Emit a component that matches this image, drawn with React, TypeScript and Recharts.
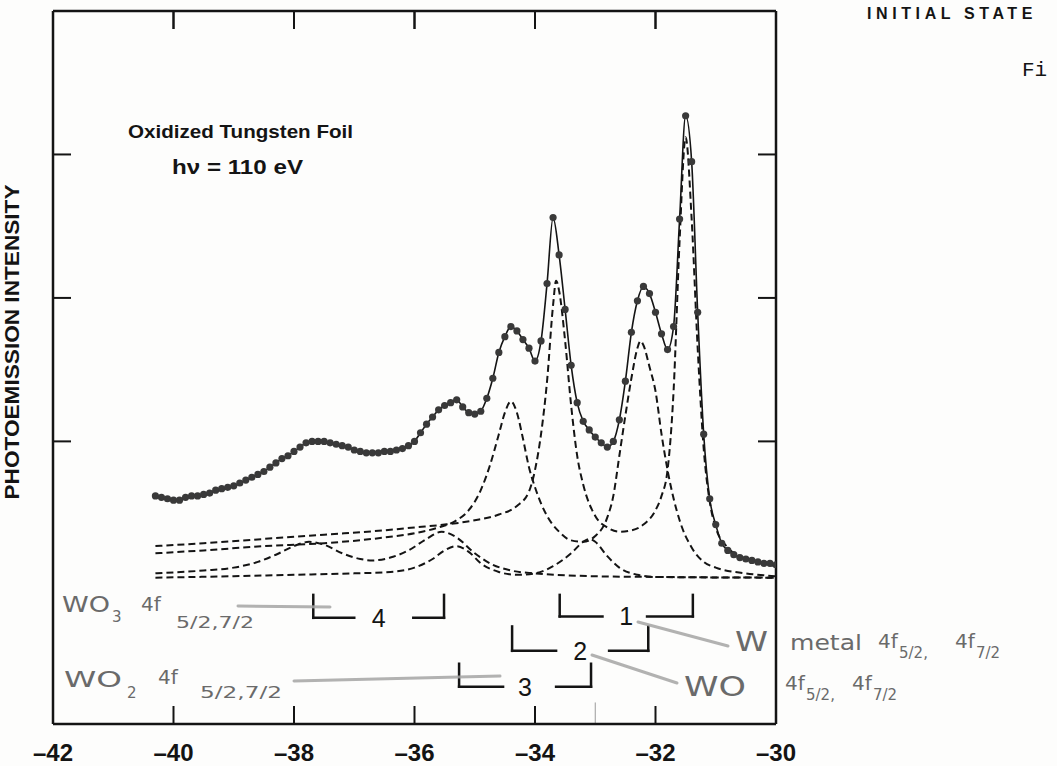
import React from "react";
import { ComposedChart, Line, XAxis, YAxis, ReferenceLine, ReferenceDot } from "recharts";

// measured spectrum (binding energy in eV, relative intensity)
const energy = [
  -40.3, -40.2, -40.1, -40.0, -39.9, -39.8, -39.7, -39.6, -39.5, -39.4, -39.3, -39.2, -39.1, -39.0,
  -38.9, -38.8, -38.7, -38.6, -38.5, -38.4, -38.3, -38.2, -38.1, -38.0, -37.9, -37.8, -37.7, -37.6,
  -37.5, -37.4, -37.3, -37.2, -37.1, -37.0, -36.9, -36.8, -36.7, -36.6, -36.5, -36.4, -36.3, -36.2,
  -36.1, -36.0, -35.9, -35.8, -35.7, -35.6, -35.5, -35.4, -35.3, -35.2, -35.1, -35.0, -34.9, -34.8,
  -34.7, -34.6, -34.5, -34.4, -34.3, -34.2, -34.1, -34.0, -33.9, -33.8, -33.7, -33.6, -33.5, -33.4,
  -33.3, -33.2, -33.1, -33.0, -32.9, -32.8, -32.7, -32.6, -32.5, -32.4, -32.3, -32.2, -32.1, -32.0,
  -31.9, -31.8, -31.7, -31.6, -31.5, -31.4, -31.3, -31.2, -31.1, -31.0, -30.9, -30.8, -30.7, -30.6,
  -30.5, -30.4, -30.3, -30.2, -30.1, -30.0,
];
const intensity = [
  0.62, 0.61, 0.6, 0.59, 0.59, 0.61, 0.62, 0.62, 0.63, 0.64, 0.66, 0.67, 0.68, 0.69,
  0.71, 0.73, 0.75, 0.77, 0.79, 0.82, 0.85, 0.88, 0.9, 0.93, 0.96, 0.99, 1.0, 1.0,
  1.0, 0.99, 0.98, 0.97, 0.96, 0.94, 0.93, 0.92, 0.92, 0.92, 0.93, 0.93, 0.94, 0.95,
  0.97, 1.0, 1.06, 1.12, 1.17, 1.22, 1.25, 1.27, 1.29, 1.24, 1.2, 1.19, 1.21, 1.3,
  1.44, 1.62, 1.73, 1.8, 1.77, 1.71, 1.65, 1.56, 1.7, 2.1, 2.56, 2.3, 1.92, 1.53,
  1.27, 1.14, 1.08, 1.03, 0.99, 0.96, 1.0, 1.15, 1.42, 1.76, 1.98, 2.08, 2.03, 1.9,
  1.75, 1.64, 1.8, 2.55, 3.27, 2.95, 1.9, 1.05, 0.6, 0.42, 0.29, 0.24, 0.21, 0.19,
  0.18, 0.17, 0.16, 0.15, 0.15, 0.14,
];

// fitted components (dashed)
const metalX = [
  -40.3, -39.5, -38.5, -37.5, -36.5, -36.0, -35.5, -35.0, -34.6, -34.3, -34.1, -34.0, -33.9, -33.8,
  -33.7, -33.65, -33.6, -33.5, -33.4, -33.3, -33.2, -33.0, -32.8, -32.6, -32.4, -32.2, -32.0, -31.9,
  -31.8, -31.7, -31.6, -31.5, -31.4, -31.3, -31.2, -31.1, -31.0, -30.8, -30.6, -30.4, -30.0,
];
const metalY = [
  0.27, 0.29, 0.32, 0.35, 0.38, 0.4, 0.42, 0.45, 0.49, 0.55, 0.65, 0.8, 1.05, 1.42,
  1.95, 2.12, 2.05, 1.7, 1.25, 0.9, 0.7, 0.48, 0.4, 0.37, 0.38, 0.42, 0.52, 0.62,
  0.8, 1.35, 2.4, 3.12, 2.55, 1.65, 0.95, 0.58, 0.4, 0.26, 0.2, 0.17, 0.13,
];
const woX = [
  -40.3, -39.5, -38.5, -37.5, -36.5, -36.0, -35.6, -35.3, -35.1, -34.9, -34.75, -34.6, -34.5, -34.4,
  -34.3, -34.2, -34.1, -34.0, -33.8, -33.6, -33.4, -33.2, -33.0, -32.8, -32.7, -32.6, -32.5, -32.4,
  -32.3, -32.25, -32.2, -32.1, -32.0, -31.9, -31.8, -31.6, -31.4, -31.2, -31.0, -30.5, -30.0,
];
const woY = [
  0.22, 0.24, 0.27, 0.29, 0.33, 0.36, 0.4, 0.45, 0.52, 0.66, 0.83, 1.05, 1.2, 1.28,
  1.2, 1.02, 0.82, 0.68, 0.48, 0.37, 0.31, 0.3, 0.34, 0.47, 0.62, 0.9, 1.18, 1.44,
  1.65, 1.7, 1.67, 1.52, 1.35, 1.05, 0.8, 0.45, 0.26, 0.16, 0.12, 0.08, 0.06,
];
const wo3X = [
  -40.3, -39.5, -39.0, -38.6, -38.3, -38.0, -37.75, -37.5, -37.2, -36.9, -36.7, -36.4, -36.1, -35.8,
  -35.55, -35.3, -35.0, -34.7, -34.4, -34.0, -33.0, -32.0, -30.0,
];
const wo3Y = [
  0.08, 0.1, 0.12, 0.16, 0.21, 0.27, 0.3, 0.28, 0.22, 0.18, 0.17, 0.19, 0.24, 0.32,
  0.37, 0.33, 0.22, 0.14, 0.1, 0.08, 0.06, 0.055, 0.05,
];
const wo2X = [
  -40.3, -39.0, -38.0, -37.0, -36.4, -36.0, -35.7, -35.5, -35.3, -35.1, -34.9, -34.6, -34.3, -34.0,
  -33.7, -33.4, -33.2, -33.1, -33.0, -32.8, -32.6, -32.3, -32.0, -30.0,
];
const wo2Y = [
  0.05, 0.06, 0.07, 0.08, 0.09, 0.12, 0.18, 0.24, 0.27, 0.23, 0.15, 0.09, 0.07, 0.08,
  0.13, 0.22, 0.3, 0.32, 0.3, 0.2, 0.12, 0.07, 0.055, 0.05,
];

const xTicks = [-42, -40, -38, -36, -34, -32, -30];
const innerXTicks = [-40, -38, -36, -34, -32];
const yTicks = [1, 2, 3];
const yTop = 4;
const yBottom = -0.97;

// component brackets under the spectrum
const bracketLabels = ["1", "2", "3", "4"];
const bracketLeft = [-33.59, -34.38, -35.26, -37.68];
const bracketRight = [-31.38, -32.12, -33.07, -35.51];
const bracketTop = [-0.07, -0.29, -0.55, -0.07];
const bracketBase = [-0.22, -0.46, -0.71, -0.23];
const armLeft = [0.71, 0.73, 0.73, 0.68];
const armRight = [0.76, 0.65, 0.58, 0.51];

const toRows = (xs: number[], ys: number[]) => xs.map((x, i) => ({ x, y: ys[i] }));

const W = 1057;
const H = 766;
const M = { top: 9, right: 279, bottom: 0, left: 51 };
const AX = 2; // width/height given to the frame axes
const plotLeft = M.left + AX;
const plotRight = W - M.right - AX;
const plotTop = M.top + AX;

const INK = "#141414";
const PENCIL = "#6a6a6a";
const SANS = "'Liberation Sans', Arial, Helvetica, sans-serif";
const HAND = "'DejaVu Sans', sans-serif";

const fmt = (v: number) => (v < 0 ? `\u2013${Math.abs(v)}` : `${v}`);

// box sides: inward tick marks, no labels
const frameAxis = {
  axisLine: { stroke: INK, strokeWidth: 2.5 },
  tickLine: { stroke: INK, strokeWidth: 2 },
  tickSize: -18,
  tickFormatter: () => "",
  tick: { fontSize: 1, fill: "none" },
  allowDataOverflow: true,
  interval: 0 as const,
};

export default function App() {
  const dataRows = toRows(energy, intensity);
  const dashed = [
    { key: "metal", rows: toRows(metalX, metalY) },
    { key: "wo", rows: toRows(woX, woY) },
    { key: "wo3", rows: toRows(wo3X, wo3Y) },
    { key: "wo2", rows: toRows(wo2X, wo2Y) },
  ];
  const xPix = (v: number) => plotLeft + ((v - xTicks[0]) / (xTicks[xTicks.length - 1] - xTicks[0])) * (plotRight - plotLeft);

  return (
    <div
      style={{
        position: "absolute",
        left: 0,
        top: 0,
        width: W,
        height: H,
        background: "#fdfdfc",
        overflow: "hidden",
        fontFamily: SANS,
      }}
    >
      <ComposedChart width={W} height={H} margin={M}>
        <XAxis
          type="number"
          dataKey="x"
          domain={[-42, -30]}
          ticks={xTicks}
          interval={0}
          allowDataOverflow
          height={42}
          tickSize={-18}
          tickMargin={38}
          tickFormatter={fmt}
          axisLine={{ stroke: INK, strokeWidth: 2.5 }}
          tickLine={{ stroke: INK, strokeWidth: 2 }}
          tick={{ fill: INK, fontSize: 24, fontWeight: 700, fontFamily: SANS }}
        />
        <XAxis
          xAxisId="top"
          orientation="top"
          type="number"
          dataKey="x"
          domain={[-42, -30]}
          ticks={xTicks}
          height={AX}
          {...frameAxis}
        />
        <YAxis
          yAxisId="left"
          type="number"
          domain={[yBottom, yTop]}
          ticks={yTicks}
          width={AX}
          {...frameAxis}
        />
        <YAxis
          yAxisId="right"
          orientation="right"
          type="number"
          domain={[yBottom, yTop]}
          ticks={yTicks}
          width={AX}
          {...frameAxis}
        />

        {dashed.map((c) => (
          <Line
            key={c.key}
            data={c.rows}
            dataKey="y"
            yAxisId="left"
            type="monotone"
            stroke={INK}
            strokeWidth={2}
            strokeDasharray="7 4"
            dot={false}
            isAnimationActive={false}
          />
        ))}
        <Line
          data={dataRows}
          dataKey="y"
          yAxisId="left"
          type="monotone"
          stroke={INK}
          strokeWidth={1.6}
          dot={{ r: 3.6, fill: "#393939", stroke: "#393939", strokeWidth: 0 }}
          isAnimationActive={false}
        />

        {bracketLabels.map((lab, i) => {
          const l = bracketLeft[i];
          const r = bracketRight[i];
          const t = bracketTop[i];
          const b = bracketBase[i];
          const line = { stroke: INK, strokeWidth: 2.5, strokeLinecap: "square" as const };
          return (
            <React.Fragment key={lab}>
              <ReferenceLine yAxisId="left" segment={[{ x: l, y: t }, { x: l, y: b }]} {...line} />
              <ReferenceLine yAxisId="left" segment={[{ x: l, y: b }, { x: l + armLeft[i], y: b }]} {...line} />
              <ReferenceLine yAxisId="left" segment={[{ x: r - armRight[i], y: b }, { x: r, y: b }]} {...line} />
              <ReferenceLine yAxisId="left" segment={[{ x: r, y: b }, { x: r, y: t }]} {...line} />
              <ReferenceDot
                yAxisId="left"
                x={(l + r) / 2}
                y={b}
                r={1}
                fill="none"
                stroke="none"
                label={{ value: lab, position: "center", fontSize: 25, fill: INK, fontFamily: SANS }}
              />
            </React.Fragment>
          );
        })}
        <ReferenceLine
          yAxisId="left"
          segment={[{ x: -33, y: yBottom }, { x: -33, y: yBottom + 0.15 }]}
          stroke="#9a9a9a"
          strokeWidth={1}
        />
      </ComposedChart>

      <svg
        width={W}
        height={H}
        style={{ position: "absolute", left: 0, top: 0, pointerEvents: "none" }}
      >
        {/* inward ticks hanging from the top edge of the frame */}
        <g stroke={INK} strokeWidth={2}>
          {innerXTicks.map((t) => (
            <line key={t} x1={xPix(t)} x2={xPix(t)} y1={plotTop} y2={plotTop + 18} />
          ))}
        </g>

        <text x={128} y={138} fontSize={19} fontWeight={700} fill={INK} fontFamily={SANS} textLength={225} lengthAdjust="spacingAndGlyphs">
          Oxidized Tungsten Foil
        </text>
        <text x={172} y={174} fontSize={20} fontWeight={700} fill={INK} fontFamily={SANS} textLength={131} lengthAdjust="spacingAndGlyphs">
          h{"\u03BD"} = 110 eV
        </text>
        <text x={867} y={19} fontSize={16} fontWeight={700} fill={INK} fontFamily={SANS} letterSpacing={4.6}>
          INITIAL STATE
        </text>
        <text x={1022} y={76} fontSize={21} fill={INK} fontFamily="'Liberation Mono', 'DejaVu Sans Mono', monospace">
          Fi
        </text>
        <text
          x={19}
          y={342}
          fontSize={20}
          fontWeight={700}
          fill={INK}
          fontFamily={SANS}
          textAnchor="middle"
          textLength={315}
          lengthAdjust="spacingAndGlyphs"
          transform="rotate(-90 19 342)"
        >
          PHOTOEMISSION INTENSITY
        </text>

        {/* pencil notes */}
        <g fill={PENCIL} fontFamily={HAND}>
          <text x={62} y={612} fontSize={21} textLength={48} lengthAdjust="spacingAndGlyphs">WO</text>
          <text x={112} y={622} fontSize={15}>3</text>
          <text x={141} y={611} fontSize={20}>4f</text>
          <text x={176} y={628} fontSize={16} textLength={78} lengthAdjust="spacingAndGlyphs">5/2,7/2</text>

          <text x={64} y={687} fontSize={21} textLength={58} lengthAdjust="spacingAndGlyphs">WO</text>
          <text x={127} y={698} fontSize={15}>2</text>
          <text x={158} y={684} fontSize={20}>4f</text>
          <text x={200} y={698} fontSize={16} textLength={82} lengthAdjust="spacingAndGlyphs">5/2,7/2</text>

          <text x={735} y={651} fontSize={27} textLength={33} lengthAdjust="spacingAndGlyphs">W</text>
          <text x={790} y={650} fontSize={21} textLength={72} lengthAdjust="spacingAndGlyphs">metal</text>
          <text x={878} y={648} fontSize={20}>4f</text>
          <text x={899} y={658} fontSize={15}>5/2,</text>
          <text x={955} y={648} fontSize={20}>4f</text>
          <text x={976} y={658} fontSize={15}>7/2</text>

          <text x={684} y={696} fontSize={26} textLength={62} lengthAdjust="spacingAndGlyphs">WO</text>
          <text x={785} y={690} fontSize={20}>4f</text>
          <text x={806} y={700} fontSize={15}>5/2,</text>
          <text x={852} y={690} fontSize={20}>4f</text>
          <text x={873} y={700} fontSize={15}>7/2</text>
        </g>
        <g stroke="#a5a5a5" strokeWidth={3} strokeLinecap="round" opacity={0.85}>
          <line x1={238} y1={606} x2={330} y2={607} />
          <line x1={294} y1={681} x2={500} y2={676} />
          <line x1={638} y1={622} x2={728} y2={646} />
          <line x1={592} y1={655} x2={677} y2={683} />
        </g>
      </svg>
    </div>
  );
}
